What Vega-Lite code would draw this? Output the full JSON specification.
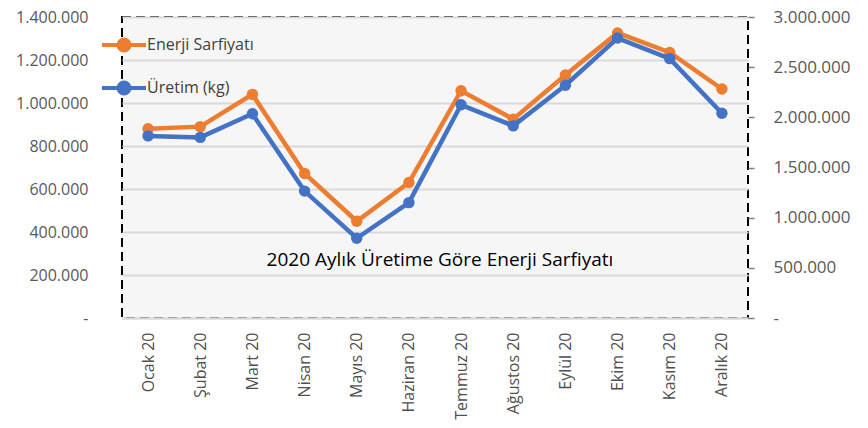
{
  "$schema": "https://vega.github.io/schema/vega-lite/v6.json",
  "width": 626,
  "height": 301,
  "autosize": {"type": "none"},
  "padding": {"left": 122, "top": 17, "right": 120, "bottom": 110},
  "background": "white",
  "config": {
    "locale": {"number": {"decimal": ",", "thousands": ".", "grouping": [3], "currency": ["", ""]}},
    "view": {"fill": "#f6f6f6", "stroke": "#000000", "strokeDash": [9, 5], "strokeWidth": 2},
    "font": "Open Sans"
  },
  "data": {
    "values": [
      {"ay": "Ocak 20", "enerji": 880000, "uretim": 1815000},
      {"ay": "Şubat 20", "enerji": 890000, "uretim": 1800000},
      {"ay": "Mart 20", "enerji": 1040000, "uretim": 2035000},
      {"ay": "Nisan 20", "enerji": 672000, "uretim": 1265000},
      {"ay": "Mayıs 20", "enerji": 450000, "uretim": 795000},
      {"ay": "Haziran 20", "enerji": 630000, "uretim": 1150000},
      {"ay": "Temmuz 20", "enerji": 1057000, "uretim": 2125000},
      {"ay": "Ağustos 20", "enerji": 925000, "uretim": 1915000},
      {"ay": "Eylül 20", "enerji": 1130000, "uretim": 2320000},
      {"ay": "Ekim 20", "enerji": 1326000, "uretim": 2790000},
      {"ay": "Kasım 20", "enerji": 1235000, "uretim": 2585000},
      {"ay": "Aralık 20", "enerji": 1065000, "uretim": 2040000}
    ]
  },
  "layer": [
    {
      "mark": {"type": "line", "strokeWidth": 4.5, "point": {"size": 130, "filled": true}},
      "encoding": {
        "x": {
          "field": "ay", "type": "nominal",
          "sort": ["Ocak 20", "Şubat 20", "Mart 20", "Nisan 20", "Mayıs 20", "Haziran 20", "Temmuz 20", "Ağustos 20", "Eylül 20", "Ekim 20", "Kasım 20", "Aralık 20"],
          "scale": {"type": "point", "padding": 0.5},
          "axis": {"title": null, "labelAngle": -90, "labelFontSize": 16, "labelColor": "#505050", "labelPadding": 14, "ticks": false, "domainColor": "#d9d9d9", "domainWidth": 2, "grid": false}
        },
        "y": {
          "field": "enerji", "type": "quantitative",
          "scale": {"domain": [0, 1400000], "nice": false},
          "axis": {"orient": "left", "title": null, "values": [0, 200000, 400000, 600000, 800000, 1000000, 1200000, 1400000], "format": ",d", "labelExpr": "datum.value === 0 ? '-\u00a0\u00a0\u00a0' : datum.label", "grid": true, "gridColor": "#d9d9d9", "gridWidth": 2, "domain": false, "ticks": false, "labelPadding": 34, "labelFontSize": 16, "labelColor": "#595959"}
        },
        "color": {
          "datum": "Enerji Sarfiyatı",
          "scale": {"domain": ["Enerji Sarfiyatı", "Üretim (kg)"], "range": ["#ED7D31", "#4472C4"]},
          "legend": {
            "orient": "none", "legendX": -11, "legendY": 15, "title": null,
            "symbolType": "M-2,0L2,0M-0.5,0A0.5,0.5,0,1,1,0.5,0A0.5,0.5,0,1,1,-0.5,0Z",
            "symbolSize": 484, "symbolStrokeWidth": 4, "labelFontSize": 16, "labelColor": "#404040",
            "rowPadding": 15, "labelOffset": 10,
            "encode": {"symbols": {"update": {"fill": {"scale": "color", "field": "value"}, "stroke": {"scale": "color", "field": "value"}, "opacity": {"value": 1}}}}
          }
        }
      }
    },
    {
      "mark": {"type": "line", "strokeWidth": 4.5, "point": {"size": 130, "filled": true}},
      "encoding": {
        "x": {
          "field": "ay", "type": "nominal",
          "sort": ["Ocak 20", "Şubat 20", "Mart 20", "Nisan 20", "Mayıs 20", "Haziran 20", "Temmuz 20", "Ağustos 20", "Eylül 20", "Ekim 20", "Kasım 20", "Aralık 20"],
          "scale": {"type": "point", "padding": 0.5}
        },
        "y": {
          "field": "uretim", "type": "quantitative",
          "scale": {"domain": [0, 3000000], "nice": false},
          "axis": {"orient": "right", "title": null, "values": [0, 500000, 1000000, 1500000, 2000000, 2500000, 3000000], "format": ",d", "labelExpr": "datum.value === 0 ? '-' : datum.label", "grid": false, "domain": false, "ticks": true, "tickColor": "#7f7f7f", "tickSize": 6, "tickWidth": 1.5, "labelPadding": 19, "labelFontSize": 17, "labelColor": "#595959"}
        },
        "color": {"datum": "Üretim (kg)"}
      }
    },
    {
      "data": {"values": [{"t": "2020 Aylık Üretime Göre Enerji Sarfiyatı"}]},
      "mark": {"type": "text", "fontSize": 19, "color": "#000000", "baseline": "middle", "align": "center"},
      "encoding": {
        "text": {"field": "t"},
        "x": {"value": {"expr": "width/2 + 5"}},
        "y": {"datum": 270000, "scale": {"domain": [0, 1400000], "nice": false}, "axis": null}
      }
    }
  ],
  "resolve": {"scale": {"y": "independent"}, "axis": {"y": "independent"}}
}
